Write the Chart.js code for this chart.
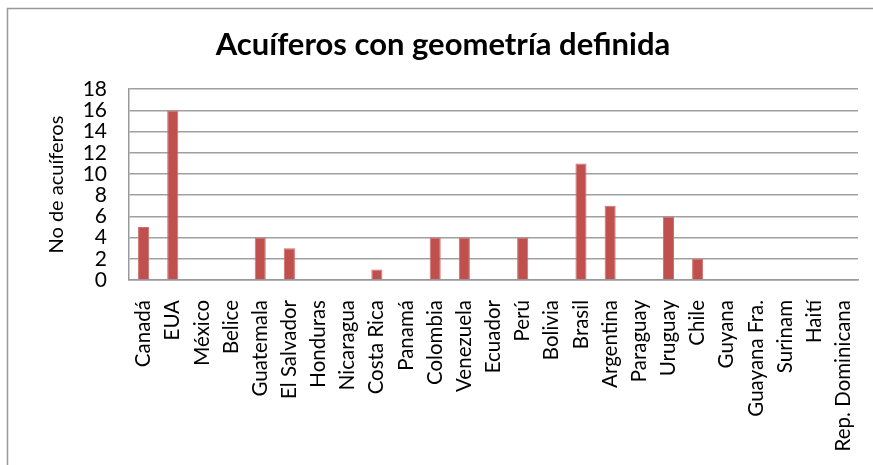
<!DOCTYPE html>
<html>
<head>
<meta charset="utf-8">
<script src="https://cdn.jsdelivr.net/npm/chart.js@4.4.1/dist/chart.umd.min.js"></script>
<style>
  body { margin:0; background:#fff; }
  #wrap { width:873px; height:465px; position:relative; }
</style>
</head>
<body>
<div id="wrap"><canvas id="barChart" width="873" height="465"></canvas></div>
<script>
var paises = ['Canadá','EUA','México','Belice','Guatemala','El Salvador','Honduras','Nicaragua','Costa Rica','Panamá','Colombia','Venezuela','Ecuador','Perú','Bolivia','Brasil','Argentina','Paraguay','Uruguay','Chile','Guyana','Guayana Fra.','Surinam','Haití','Rep. Dominicana'];
var acuiferos = [5,16,0,0,4,3,0,0,1,0,4,4,0,4,0,11,7,0,6,2,0,0,0,0,0];
var yTicks = [0,2,4,6,8,10,12,14,16,18];
var titulo = 'Acuíferos con geometría definida';
var tituloY = 'No de acuíferos';

var fontName = 'Lato, "Open Sans", sans-serif';

// white page + the chart's outer frame (cut off by the window on right/bottom)
var frame = {
  id: 'frame',
  beforeDraw: function(chart) {
    var ctx = chart.ctx;
    ctx.save();
    ctx.fillStyle = '#fff';
    ctx.fillRect(0, 0, chart.width, chart.height);
    ctx.strokeStyle = '#999';
    ctx.lineWidth = 1.5;
    ctx.strokeRect(7.5, 8.5, 2000, 2000);
    ctx.restore();
  }
};

var chart = new Chart(document.getElementById('barChart'), {
  type: 'bar',
  data: {
    labels: paises,
    datasets: [{
      label: tituloY,
      data: acuiferos,
      backgroundColor: '#C0504D',
      borderColor: '#CF6E6B',
      borderWidth: 1,
      categoryPercentage: 1,
      barPercentage: 0.38
    }]
  },
  options: {
    responsive: false,
    animation: false,
    layout: { padding: { left: 28, right: 15, top: 0, bottom: 0 } },
    plugins: {
      legend: { display: false },
      tooltip: { enabled: false },
      title: {
        display: true,
        text: titulo,
        color: '#000',
        font: { family: fontName, size: 31, weight: 'bold', lineHeight: 1.2 },
        padding: { top: 26, bottom: 26 }
      }
    },
    scales: {
      x: {
        grid: { display: false, drawTicks: false },
        border: { display: true, color: '#999', width: 1.5 },
        ticks: {
          color: '#000',
          font: { family: fontName, size: 20.5 },
          minRotation: 90,
          maxRotation: 90,
          autoSkip: false,
          padding: 20
        },
        afterFit: function(scale) {
          scale.height = 465 - 280;
          scale.paddingLeft = 0;
          scale.paddingRight = 0;
        }
      },
      y: {
        min: 0,
        max: 18,
        afterBuildTicks: function(scale) {
          scale.ticks = yTicks.map(function(v) { return { value: v }; });
        },
        grid: { color: '#a0a0a0', lineWidth: 1.5, drawTicks: false },
        border: { display: true, color: '#999', width: 1.5 },
        ticks: {
          color: '#000',
          font: { family: fontName, size: 21 },
          autoSkip: false,
          padding: 22
        },
        title: {
          display: true,
          text: tituloY,
          color: '#000',
          font: { family: fontName, size: 20 },
          padding: { top: 17, bottom: 0 }
        },
        afterFit: function(scale) { scale.width = 101; }
      }
    }
  },
  plugins: [frame]
});
</script>
</body>
</html>
